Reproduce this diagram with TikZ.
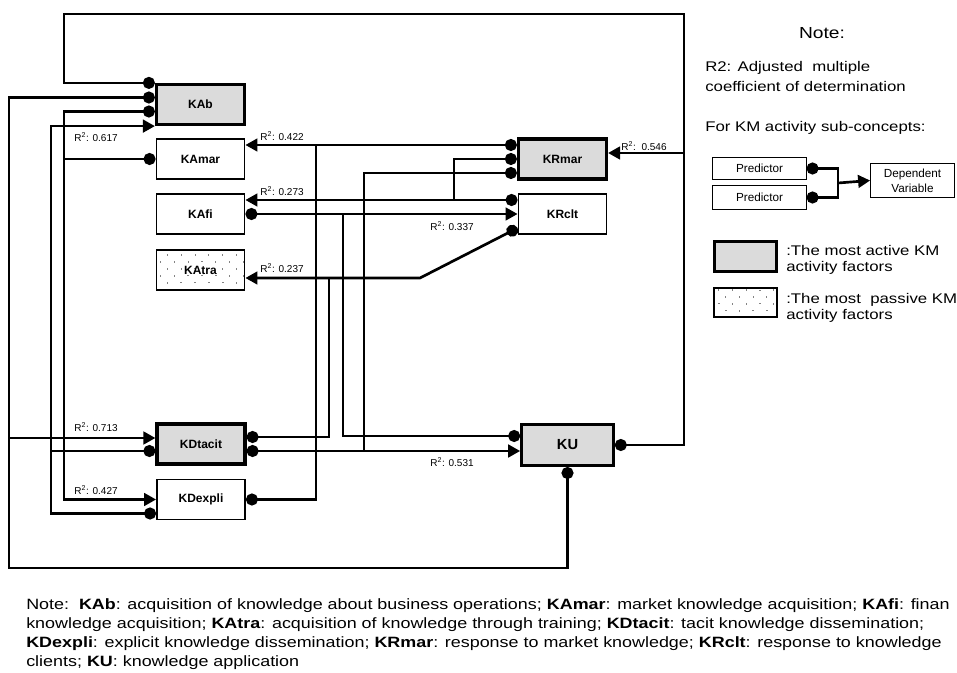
\documentclass[tikz,border=0pt]{standalone}
\usepackage{fontspec}
\setmainfont{Liberation Sans}
\newfontfamily\widefont[FakeStretch=1.2]{Liberation Sans}
\usepackage{tikz}
\usetikzlibrary{arrows.meta, patterns.meta}
\tikzstyle{factor} = [rectangle, draw, line width=1.4pt, minimum width=66pt, minimum height=30pt, inner sep=0pt, font=\bfseries\fontsize{9}{10}\selectfont]
\tikzstyle{active} = [factor, fill=black!14, line width=2.4pt]
\tikzstyle{passive} = [factor, pattern={Dots[distance=7.4pt, angle=45, radius=0.5pt]}, pattern color=black!75]
\tikzstyle{keybox} = [rectangle, draw, line width=0.6pt, inner sep=0pt, align=center, font=\fontsize{8.8}{11}\selectfont]
\tikzstyle{connector} = [draw, line width=2pt]
\tikzstyle{rsq} = [inner sep=0pt, font=\fontsize{7.5}{8}\selectfont]
\tikzstyle{notetext} = [inner sep=0pt, align=left, anchor=west, font=\widefont\fontsize{10.5}{12}\selectfont]
\tikzset{ball/.tip={Circle[length=9pt]}, >={Triangle[length=9pt, width=9.5pt]}}

\begin{document}
\begin{tikzpicture}[x=0.75pt, y=-0.75pt]
        \useasboundingbox (0,0) rectangle (957,673);

        \node [active] at (200.5,104.5) (KAb) {KAb};
        \node [factor] at (200.5,159) (KAmar) {KAmar};
        \node [factor] at (200.5,214) (KAfi) {KAfi};
        \node [passive] at (200.5,270) (KAtra) {KAtra};

        \node [active] at (562.5,159) (KRmar) {KRmar};
        \node [factor] at (562.5,214) (KRclt) {KRclt};

        \node [active] at (201,444) (KDtacit) {KDtacit};
        \node [factor] at (201,499.5) (KDexpli) {KDexpli};

        \node [active, minimum width=68.6pt, minimum height=30.6pt, font=\bfseries\fontsize{11}{12}\selectfont] at (567.5,445) (KU) {KU};

        % ports on the box sides
        \coordinate (KAb-p2) at ([yshift=5.25pt]KAb.west);
        \coordinate (KAb-p3) at ([yshift=-5.25pt]KAb.west);
        \coordinate (KAmar-in) at ([yshift=10.5pt]KAmar.east);
        \coordinate (KAfi-in) at ([yshift=10.5pt]KAfi.east);
        \coordinate (KAtra-in) at ([yshift=-6pt]KAtra.east);
        \coordinate (KRmar-p1) at ([yshift=10.5pt]KRmar.west);
        \coordinate (KRmar-p3) at ([yshift=-10.5pt]KRmar.west);
        \coordinate (KRmar-in) at ([yshift=4.5pt]KRmar.east);
        \coordinate (KRclt-p1) at ([yshift=10.5pt]KRclt.west);
        \coordinate (KRclt-p3) at ([yshift=-10.5pt]KRclt.west);
        \coordinate (KDtacit-l1) at ([yshift=4.5pt]KDtacit.west);
        \coordinate (KDtacit-l2) at ([yshift=-5.25pt]KDtacit.west);
        \coordinate (KDtacit-r1) at ([yshift=5.25pt]KDtacit.east);
        \coordinate (KDtacit-r2) at ([yshift=-5.25pt]KDtacit.east);
        \coordinate (KDexpli-out) at ([yshift=-10.5pt]KDexpli.west);
        \coordinate (KU-p1) at ([yshift=6.75pt]KU.west);
        \coordinate (KU-p2) at ([yshift=-4.5pt]KU.west);

        % lanes
        \coordinate (topR) at (684,14);
        \coordinate (topL) at (64,14);
        \coordinate (outerL) at (9,568);
        \coordinate (laneB) at (51,0);
        \coordinate (laneC) at (64,0);
        \coordinate (laneD) at (316,0);
        \coordinate (laneE) at (329,0);
        \coordinate (laneF) at (343,0);
        \coordinate (laneG) at (364,0);
        \coordinate (laneH) at (454,0);
        \coordinate (knee) at (420,278);

        \path [connector, ball-ball] (KU.east) -| (topR) -- (topL) |- (KAb.north west);
        \path [connector, ->] (KRmar-in -| topR) -- (KRmar-in);
        \path [connector, ball-ball] (KU.south) |- (outerL) |- (KAb-p2);
        \path [connector, ->] (KDtacit-l1 -| outerL) -- (KDtacit-l1);

        \path [connector, ball->] (KAb-p3) -- (KAb-p3 -| laneC) |- (KDexpli.west);
        \path [connector, ball-] (KAmar.west) -- (KAmar.west -| laneC);
        \path [connector, ball->] (KDexpli-out) -- (KDexpli-out -| laneB) |- (KAb.south west);
        \path [connector, ball-] (KDtacit-l2) -- (KDtacit-l2 -| laneB);

        \path [connector, ball->] (KRmar-p1) -- (KAmar-in);
        \path [connector, ball-] (KDexpli.east) -| (laneD |- KAmar-in);
        \path [connector, ball->] (KRclt-p1) -- (KAfi-in);
        \path [connector, ball-] (KRmar.west) -| (laneH |- KAfi-in);
        \path [connector, ball->] (KAfi.east) -- (KRclt.west);
        \path [connector, ball-] (KU-p1) -| (laneF |- KAfi.east);
        \path [connector, ball->] (KRclt-p3) -- (knee) -- (KAtra-in);
        \path [connector, ball-] (KDtacit-r1) -| (laneE |- KAtra-in);
        \path [connector, ball->] (KDtacit-r2) -- (KU-p2);
        \path [connector, ball-] (KRmar-p3) -| (laneG |- KU-p2);

        \node [rsq] at (96,137) (r617) {R\textsuperscript{2}: 0.617};
        \node [rsq] at (282,136) (r422) {R\textsuperscript{2}: 0.422};
        \node [rsq] at (282,191) (r273) {R\textsuperscript{2}: 0.273};
        \node [rsq] at (282,268) (r237) {R\textsuperscript{2}: 0.237};
        \node [rsq] at (452,226) (r337) {R\textsuperscript{2}: 0.337};
        \node [rsq] at (644,146) (r546) {R\textsuperscript{2}:\ \ 0.546};
        \node [rsq] at (96,427) (r713) {R\textsuperscript{2}: 0.713};
        \node [rsq] at (96,490) (r427) {R\textsuperscript{2}: 0.427};
        \node [rsq] at (452,462) (r531) {R\textsuperscript{2}: 0.531};

        % legend
        \node [inner sep=0pt, font=\widefont\fontsize{12}{14}\selectfont] at (822,33) (notehead) {Note:};
        \node [notetext, font=\widefont\fontsize{10.5}{15}\selectfont] at (705,77) (r2note) {R2: Adjusted\ \ multiple\\coefficient of determination};
        \node [notetext] at (705,128) (subnote) {For KM activity sub-concepts:};
        \node [keybox, minimum width=70pt, minimum height=17pt] at (759.5,168.5) (pred1) {Predictor};
        \node [keybox, minimum width=70pt, minimum height=18pt] at (759.5,197.5) (pred2) {Predictor};
        \node [keybox, minimum width=63pt, minimum height=26pt] at (912.5,180.5) (dep) {Dependent\\Variable};
        \coordinate (fork) at (838,183);
        \path [connector, ball-] (pred1.east) -| (fork);
        \path [connector, ball-] (pred2.east) -| (fork);
        \path [connector, ->] (fork) -- (dep.west);

        \node [active, minimum width=46.4pt, minimum height=22.4pt] at (745.5,256.5) (keyactive) {};
        \node [passive, minimum width=47.3pt, minimum height=21.8pt] at (745.5,302.5) (keypassive) {};
        \node [notetext] at (786,260) (activetext) {:The most active KM\\activity factors};
        \node [notetext] at (786,307.5) (passivetext) {:The most\ \ passive KM\\activity factors};

        \node [notetext, font=\widefont\fontsize{11.2}{14.4}\selectfont] at (26,634) (caption)
        {Note:\ \ \textbf{KAb}: acquisition of knowledge about business operations; \textbf{KAmar}: market knowledge acquisition; \textbf{KAfi}: finan\\
        knowledge acquisition; \textbf{KAtra}: acquisition of knowledge through training; \textbf{KDtacit}: tacit knowledge dissemination;\\
        \textbf{KDexpli}: explicit knowledge dissemination; \textbf{KRmar}: response to market knowledge; \textbf{KRclt}: response to knowledge\\
        clients; \textbf{KU}: knowledge application};
\end{tikzpicture}
\end{document}
